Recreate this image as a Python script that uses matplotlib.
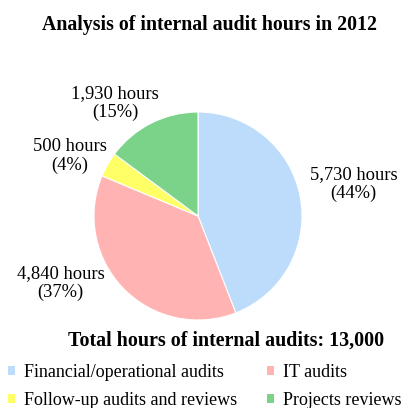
import numpy as np
import matplotlib.pyplot as plt
from matplotlib.patches import Patch

categories = ["Financial/operational audits", "IT audits",
              "Follow-up audits and reviews", "Projects reviews"]
hours = [5730, 4840, 500, 1930]
colors = ["#BDDCFB", "#FFB3B3", "#FFFF66", "#7BD389"]
total = 13000

plt.rcParams['font.family'] = ['Liberation Serif', 'DejaVu Serif']

fig = plt.figure(figsize=(4.02, 4.08), dpi=100)
W, H = 402, 408
cx, cy, r = 198, 216, 104
ax = fig.add_axes([(cx - r) / W, (H - cy - r) / H, 2 * r / W, 2 * r / H])
wedges, _ = ax.pie(hours, colors=colors, startangle=90, counterclock=False,
                   radius=1, wedgeprops=dict(edgecolor="white", linewidth=0.8))
ax.set_xlim(-1, 1)
ax.set_ylim(-1, 1)
ax.axis("off")

# label placement (angle offset in degrees, distance in radii)
label_pos = [(1, 1.53), (-18.4, 1.47), (4.5, 1.36), (9.5, 1.35)]
for w, h, (da, d) in zip(wedges, hours, label_pos):
    ang = np.deg2rad((w.theta1 + w.theta2) / 2 + da)
    pct = round(h / total * 100)
    ax.text(d * np.cos(ang), d * np.sin(ang), f"{h:,} hours\n({pct}%)",
            ha="center", va="center", fontsize=13.3, linespacing=1.1)

fig.text(210 / W, 1 - 25 / H, "Analysis of internal audit hours in 2012",
         ha="center", va="center", fontsize=14.3, fontweight="bold")
fig.text(226 / W, 1 - 341 / H, f"Total hours of internal audits: {total:,}",
         ha="center", va="center", fontsize=14.4, fontweight="bold")

order = [0, 2, 1, 3]
handles = [Patch(facecolor=colors[i], edgecolor="none") for i in order]
fig.legend(handles, [categories[i] for i in order], ncol=2, loc="upper left",
           bbox_to_anchor=(8 / W, 1 - 364 / H), frameon=False, fontsize=13,
           handlelength=0.4, handleheight=0.4, handletextpad=0.5,
           columnspacing=1.65, labelspacing=0.62, borderpad=0, borderaxespad=0)

fig.savefig("out.png", dpi=100)
